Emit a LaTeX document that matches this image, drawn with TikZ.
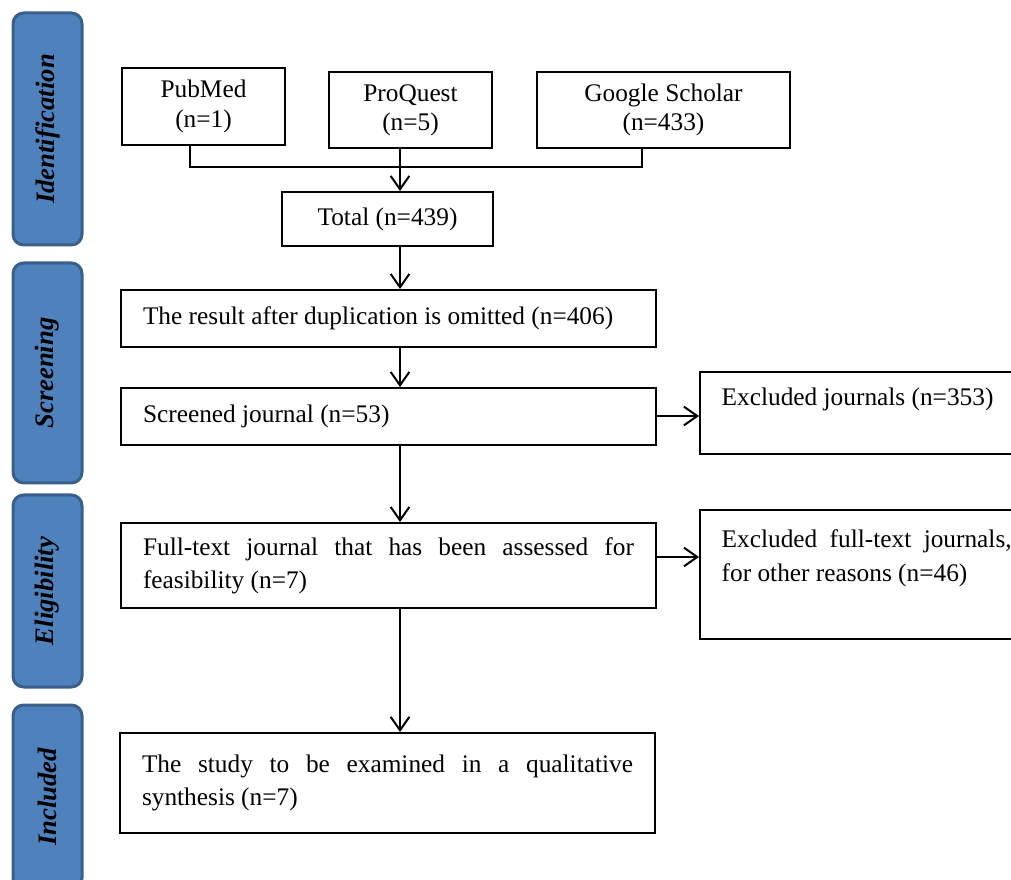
\documentclass[tikz,border=0pt]{standalone}
\usepackage{fontspec}
\setmainfont{Liberation Serif}
\usetikzlibrary{arrows.meta, positioning}
\definecolor{phasefill}{HTML}{4F81BD}
\definecolor{phaseedge}{HTML}{3A5F8B}
\hyphenpenalty=10000
\exhyphenpenalty=10000
\tikzset{
    phase/.style={
        rectangle, rounded corners=8pt, rotate=90, minimum height=51.75pt,
        fill=phasefill, draw=phaseedge, line width=2.25pt,
        font=\fontsize{20}{24}\selectfont\bfseries\itshape
    },
    source/.style={
        rectangle, draw=black, line width=1.5pt, align=center,
        font=\fontsize{19}{22}\selectfont
    },
    process/.style={
        rectangle, draw=black, line width=1.5pt, minimum width=401.25pt,
        text width=368.25pt, align=justify,
        font=\fontsize{19}{24.75}\selectfont
    },
    excluded/.style={
        rectangle, draw=black, line width=1.5pt, anchor=north west,
        minimum width=250pt, text width=217.5pt, inner xsep=14.25pt,
        inner ysep=0pt, align=justify,
        font=\fontsize{19}{24.75}\selectfont
    },
    arrow/.style={
        -{Straight Barb[length=10pt,width=14pt]}, line width=1.5pt
    },
    link/.style={
        line width=1.5pt
    }
}

\begin{document}
\begin{tikzpicture}[x=0.75pt, y=-0.75pt]

    \useasboundingbox (0,0) rectangle (1011,880);
    \clip (0,0) rectangle (1011,880);

    % phase bars
    \node[phase, minimum width=174pt] (ident)  at (47.5,129) {Identification};
    \node[phase, minimum width=165pt] (screen) at (47.5,373) {Screening};
    \node[phase, minimum width=144pt] (elig)   at (47.5,591) {Eligibility};
    \node[phase, minimum width=138pt] (incl)   at (47.5,797) {Included};

    % sources
    \node[source, minimum width=122.25pt, minimum height=57.75pt] (pubmed)   at (203.5,106.5) {PubMed\\(n=1)};
    \node[source, minimum width=122.25pt, minimum height=57pt]    (proquest) at (410.5,110)   {ProQuest\\(n=5)};
    \node[source, minimum width=189.75pt, minimum height=57pt]    (google)   at (663.5,110)   {Google Scholar\\(n=433)};
    \node[source, minimum width=158.25pt, minimum height=40.5pt]  (total)    at (387.5,219)   {Total (n=439)};

    % main column
    \node[process, minimum height=42.75pt] (result)   at (388.5,318.5) {The result after duplication is omitted (n=406)};
    \node[process, minimum height=42.75pt] (screened) at (388.5,416.5) {Screened journal (n=53)};
    \node[process, minimum height=63.75pt] (fulltext) at (388.5,565.5) {Full-text journal that has been assessed for feasibility (n=7)};
    \node[process, minimum height=75pt]    (study)    at (387.5,783)   {The study to be examined in a qualitative synthesis (n=7)};

    % exclusions
    \node[excluded, text height=25.5pt, text depth=36pt]    (excl1) at (699,371) {Excluded journals (n=353)};
    \node[excluded, text height=28.5pt, text depth=68.25pt] (excl2) at (699,509) {Excluded full-text journals, for other reasons (n=46)};

    \coordinate (spine) at (400,0);
    \coordinate (joinL) at (190,167);
    \coordinate (joinR) at (642,167);
    \coordinate (exit1) at (0,416);
    \coordinate (exit2) at (0,557);

    \draw[link]  (pubmed.south -| joinL) -- (joinL) -- (joinR) -- (google.south -| joinR);
    \draw[arrow] (proquest.south -| spine) -- (total.north -| spine);
    \draw[arrow] (total.south -| spine)    -- (result.north -| spine);
    \draw[arrow] (result.south -| spine)   -- (screened.north -| spine);
    \draw[arrow] (screened.south -| spine) -- (fulltext.north -| spine);
    \draw[arrow] (fulltext.south -| spine) -- (study.north -| spine);
    \draw[arrow] (screened.east |- exit1)  -- (excl1.west |- exit1);
    \draw[arrow] (fulltext.east |- exit2)  -- (excl2.west |- exit2);

\end{tikzpicture}
\end{document}
